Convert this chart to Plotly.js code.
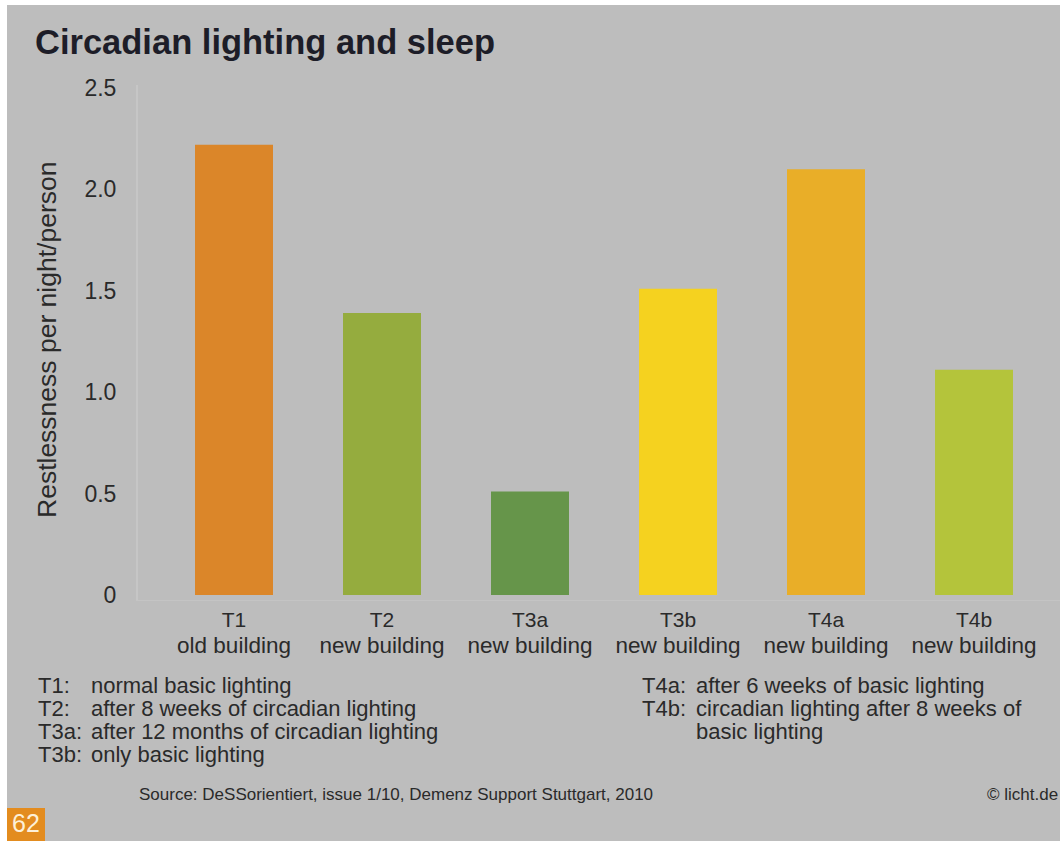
<!DOCTYPE html>
<html>
<head>
<meta charset="utf-8">
<script src="https://cdn.plot.ly/plotly-3.0.1.min.js"></script>
<style>html,body{margin:0;padding:0;background:#bdbdbd;overflow:hidden}</style>
</head>
<body>
<div id="chart" style="width:1060px;height:841px"></div>
<script>
// ---- data ----
const categories = ['T1', 'T2', 'T3a', 'T3b', 'T4a', 'T4b'];
const buildings = ['old building', 'new building', 'new building', 'new building', 'new building', 'new building'];
const restlessness = [2.22, 1.39, 0.51, 1.51, 2.10, 1.11];
const barColors = ['#DB8629', '#95AC3E', '#66954A', '#F5D21F', '#E9AE28', '#B4C43B'];
const yTickVals = [0, 0.5, 1.0, 1.5, 2.0, 2.5];
const yTickText = ['0', '0.5', '1.0', '1.5', '2.0', '2.5'];
const notesLeftLabels = ['T1:', 'T2:', 'T3a:', 'T3b:'];
const notesLeftTexts = ['normal basic lighting', 'after 8 weeks of circadian lighting', 'after 12 months of circadian lighting', 'only basic lighting'];
const notesRightLabels = ['T4a:', 'T4b:', ''];
const notesRightTexts = ['after 6 weeks of basic lighting', 'circadian lighting after 8 weeks of', 'basic lighting'];
const titleText = 'Circadian lighting and sleep';
const yTitle = 'Restlessness per night/person';
const sourceText = 'Source: DeSSorientiert, issue 1/10, Demenz Support Stuttgart, 2010';
const copyrightText = '© licht.de';
const pageNumber = '62';

// ---- layout helpers (pixel -> paper) ----
const W = 1060, H = 841;
const PL = 138, PR = 1060, PT = 85, PB = 600;
const ax = px => (px - PL) / (PR - PL);
const ay = py => (PB - py) / (PB - PT);
const FONT = 'Liberation Sans, Arial, Helvetica, sans-serif';
const TXT = '#2a2a2a';

const traces = [
  {
    type: 'bar', x: categories, y: restlessness,
    marker: {color: barColors, line: {width: 0}},
    hoverinfo: 'x+y', showlegend: false
  },
  {
    type: 'scatter', mode: 'markers', x: categories, y: restlessness, xaxis: 'x2',
    marker: {opacity: 0, size: 1}, hoverinfo: 'skip', showlegend: false
  }
];

const NOTE = 22;
const annotations = [];
const lineY = [685, 708, 731, 754];
notesLeftLabels.forEach((t, i) => {
  annotations.push({text: t, x: ax(36), y: ay(lineY[i]), xref: 'paper', yref: 'paper',
    xanchor: 'left', yanchor: 'middle', showarrow: false, font: {family: FONT, size: NOTE, color: TXT}});
  annotations.push({text: notesLeftTexts[i], x: ax(89), y: ay(lineY[i]), xref: 'paper', yref: 'paper',
    xanchor: 'left', yanchor: 'middle', showarrow: false, font: {family: FONT, size: NOTE, color: TXT}});
});
notesRightLabels.forEach((t, i) => {
  if (t) annotations.push({text: t, x: ax(640), y: ay(lineY[i]), xref: 'paper', yref: 'paper',
    xanchor: 'left', yanchor: 'middle', showarrow: false, font: {family: FONT, size: NOTE, color: TXT}});
  annotations.push({text: notesRightTexts[i], x: ax(694), y: ay(lineY[i]), xref: 'paper', yref: 'paper',
    xanchor: 'left', yanchor: 'middle', showarrow: false, font: {family: FONT, size: NOTE, color: TXT}});
});
annotations.push({text: yTitle, textangle: -90, x: ax(47), y: ay(340), xref: 'paper', yref: 'paper',
  xanchor: 'center', yanchor: 'middle', showarrow: false, font: {family: FONT, size: 26.5, color: TXT}});
annotations.push({text: sourceText, x: ax(137), y: ay(794), xref: 'paper', yref: 'paper',
  xanchor: 'left', yanchor: 'middle', showarrow: false, font: {family: FONT, size: 17, color: TXT}});
annotations.push({text: copyrightText, x: ax(985), y: ay(794), xref: 'paper', yref: 'paper',
  xanchor: 'left', yanchor: 'middle', showarrow: false, font: {family: FONT, size: 17, color: TXT}});
annotations.push({text: pageNumber, x: ax(26), y: ay(823), xref: 'paper', yref: 'paper',
  xanchor: 'center', yanchor: 'middle', showarrow: false,
  font: {family: 'Liberation Sans Narrow, Arial Narrow, Liberation Sans, sans-serif', size: 25, color: '#fdf0d8'}});

const layout = {
  width: W, height: H,
  margin: {l: PL, r: W - PR, t: PT, b: H - PB, pad: 0},
  paper_bgcolor: '#bdbdbd',
  plot_bgcolor: 'rgba(0,0,0,0)',
  bargap: 0.473,
  title: {
    text: '<b>' + titleText + '</b>',
    x: 35 / W, xref: 'container', xanchor: 'left',
    y: 1 - 42 / H, yref: 'container', yanchor: 'middle',
    font: {family: FONT, size: 34.5, color: '#1d1d28'}
  },
  xaxis: {
    type: 'category', range: [(PL - 234) / 148, (PR - 234) / 148],
    tickmode: 'array', tickvals: categories, ticktext: categories,
    showline: true, linecolor: '#c4c4c4', linewidth: 1,
    showgrid: false, zeroline: false, ticks: '', ticklabelstandoff: 1,
    tickfont: {family: FONT, size: 21, color: TXT}, fixedrange: true
  },
  xaxis2: {
    type: 'category', overlaying: 'x', matches: 'x', anchor: 'y', side: 'bottom',
    tickmode: 'array', tickvals: categories, ticktext: buildings,
    showline: false, showgrid: false, zeroline: false, ticks: '', ticklabelstandoff: 29,
    tickfont: {family: FONT, size: 22.5, color: TXT}
  },
  yaxis: {
    range: [-0.025, 2.515],
    tickmode: 'array', tickvals: yTickVals, ticktext: yTickText,
    showline: true, linecolor: '#c6c6c6', linewidth: 2,
    showgrid: false, zeroline: false, ticks: '', ticklabelstandoff: 15,
    tickfont: {family: FONT, size: 23, color: TXT}, fixedrange: true
  },
  shapes: [
    {type: 'rect', xref: 'paper', yref: 'paper', x0: ax(0), x1: ax(W), y0: ay(5), y1: ay(0),
      fillcolor: '#ffffff', line: {width: 0}, layer: 'above'},
    {type: 'rect', xref: 'paper', yref: 'paper', x0: ax(0), x1: ax(7), y0: ay(H), y1: ay(0),
      fillcolor: '#ffffff', line: {width: 0}, layer: 'above'},
    {type: 'rect', xref: 'paper', yref: 'paper', x0: ax(7), x1: ax(45), y0: ay(H), y1: ay(808),
      fillcolor: '#E38C1F', line: {width: 0}, layer: 'below'}
  ],
  annotations: annotations,
  showlegend: false
};

Plotly.newPlot('chart', traces, layout, {displayModeBar: false, staticPlot: true});
</script>
</body>
</html>
